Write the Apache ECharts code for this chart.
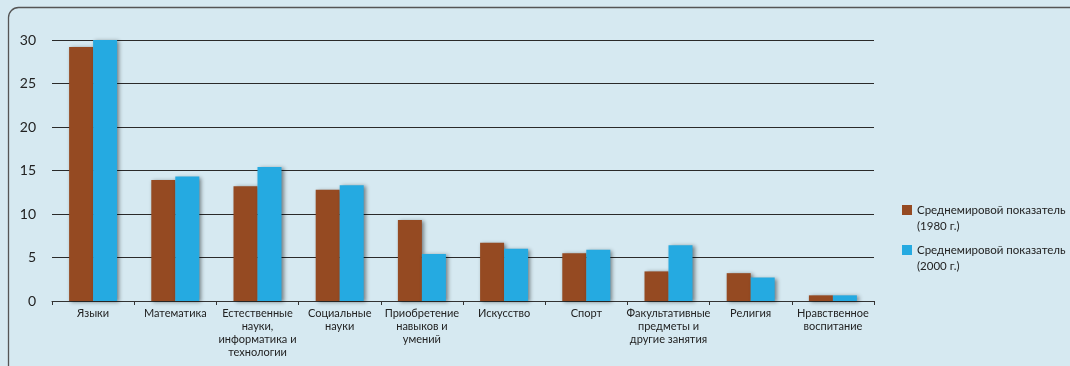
<!DOCTYPE html>
<html>
<head>
<meta charset="utf-8">
<script src="https://cdn.jsdelivr.net/npm/echarts@6/dist/echarts.min.js"></script>
<style>
  html, body { margin: 0; padding: 0; background: #d6e9f1; }
  #chart { width: 1070px; height: 366px; }
</style>
</head>
<body>
<div id="chart"></div>
<script>
// Доля учебного времени по предметам, %
const categories = [
  'Языки',
  'Математика',
  'Естественные\nнауки,\nинформатика и\nтехнологии',
  'Социальные\nнауки',
  'Приобретение\nнавыков и\nумений',
  'Искусство',
  'Спорт',
  'Факультативные\nпредметы и\nдругие занятия',
  'Религия',
  'Нравственное\nвоспитание'
];
const values1980 = [29.2, 13.9, 13.2, 12.8, 9.3, 6.7, 5.5, 3.4, 3.2, 0.65];
const values2000 = [30.0, 14.3, 15.4, 13.3, 5.4, 6.0, 5.9, 6.4, 2.7, 0.65];
const seriesNames = ['Среднемировой показатель\n(1980 г.)', 'Среднемировой показатель\n(2000 г.)'];
const yTicks = { min: 0, max: 30, interval: 5 };

const FONT = 'Lato, "Open Sans", sans-serif';
const barShadow = {
  shadowColor: 'rgba(0,0,0,0.45)',
  shadowBlur: 4,
  shadowOffsetX: 2,
  shadowOffsetY: 1
};

const chart = echarts.init(document.getElementById('chart'), null, { renderer: 'canvas' });
chart.setOption({
  backgroundColor: '#d6e9f1',
  animation: false,
  textStyle: { fontFamily: FONT },
  graphic: [{
    type: 'rect',
    shape: { x: 8.5, y: 7.5, width: 1200, height: 500, r: 10 },
    style: { fill: 'none', stroke: '#555', lineWidth: 1.3 },
    silent: true
  }],
  grid: { left: 52, right: 196, top: 40, bottom: 65 },
  legend: {
    orient: 'vertical',
    left: 902,
    top: 186,
    padding: 0,
    itemWidth: 10,
    itemHeight: 10,
    itemGap: -8,
    icon: 'rect',
    // a leading blank line keeps the swatch level with the first text line
    formatter: name => '\n' + name,
    textStyle: {
      fontFamily: FONT,
      fontSize: 11.5,
      lineHeight: 16,
      color: '#222'
    },
    data: seriesNames
  },
  xAxis: {
    type: 'category',
    data: categories,
    axisLine: { lineStyle: { color: '#333', width: 1 } },
    axisTick: { show: true, length: 4, lineStyle: { color: '#333' } },
    axisLabel: {
      interval: 0,
      fontSize: 11,
      lineHeight: 13,
      color: '#222',
      margin: 6,
      fontFamily: FONT
    }
  },
  yAxis: {
    type: 'value',
    min: yTicks.min,
    max: yTicks.max,
    interval: yTicks.interval,
    axisLine: { show: false },
    axisTick: { show: false },
    axisLabel: { fontSize: 14, color: '#222', margin: 16, fontFamily: FONT },
    splitLine: { lineStyle: { color: '#2a2a2a', width: 1 } }
  },
  series: [
    {
      name: seriesNames[0],
      type: 'bar',
      data: values1980,
      barWidth: 24,
      barGap: '0%',
      itemStyle: Object.assign({ color: '#954a22' }, barShadow)
    },
    {
      name: seriesNames[1],
      type: 'bar',
      data: values2000,
      barWidth: 24,
      barGap: '0%',
      itemStyle: Object.assign({ color: '#25aae1' }, barShadow)
    }
  ]
});
</script>
</body>
</html>
